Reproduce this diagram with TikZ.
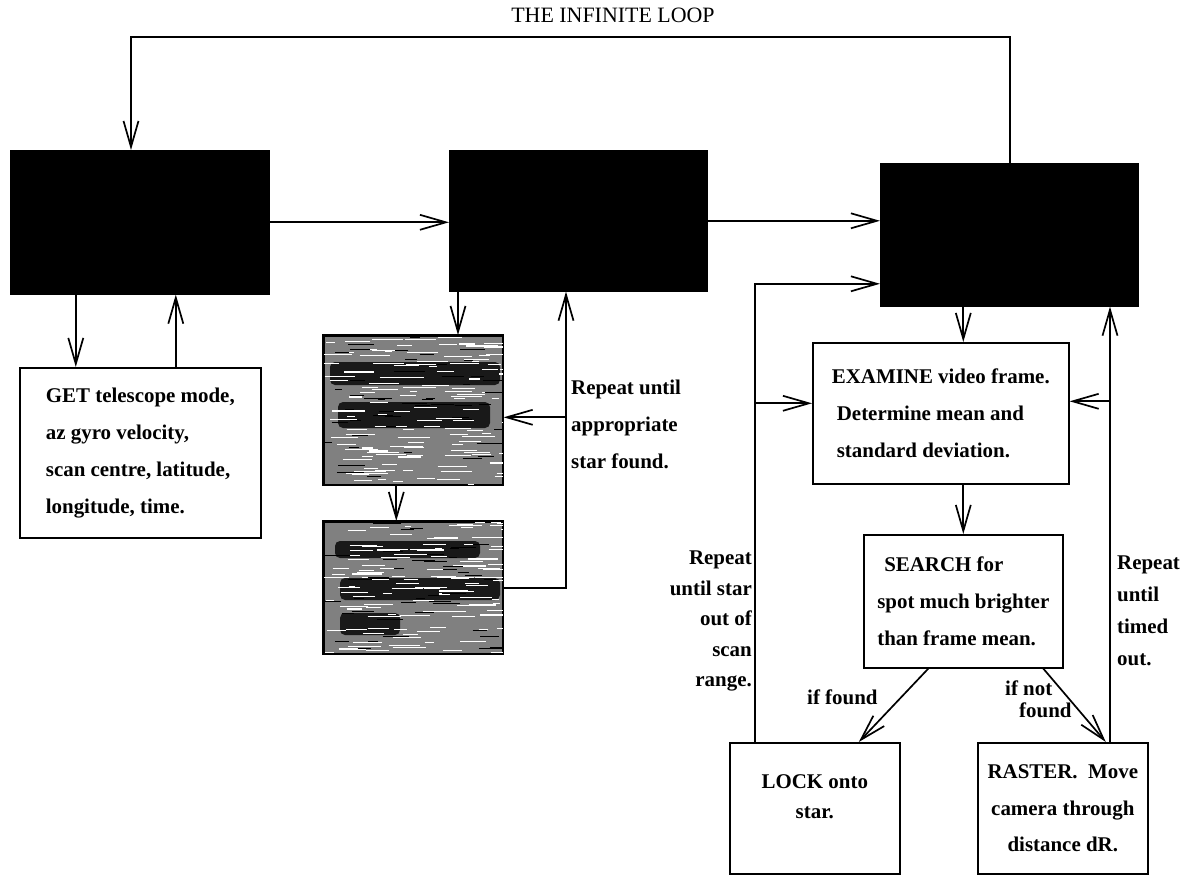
\documentclass[tikz,border=0pt]{standalone}
\usepackage{fontspec}
\setmainfont{Liberation Serif}
\usetikzlibrary{arrows.meta, positioning}

\begin{document}
\begin{tikzpicture}[x=1bp, y=-1bp,
    arr/.style={-{Straight Barb[length=26bp, width=15bp]}, line width=1.7bp},
    box/.style={draw, line width=1.6bp, inner sep=0pt, anchor=north west,
                font=\fontsize{21}{37}\selectfont\bfseries},
    blackbox/.style={box, fill=black},
    greybox/.style={box, fill=black!50},
    lbl/.style={inner sep=0pt, font=\fontsize{21}{37}\selectfont\bfseries}]
    \useasboundingbox (0,0) rectangle (1197,875);
    \node[font=\fontsize{22}{24}\selectfont] (title) at (613,15) {THE INFINITE LOOP};
    % top row
    \node[blackbox, minimum width=258bp, minimum height=143bp] (box1) at (10,150) {};
    \node[blackbox, minimum width=257bp, minimum height=140bp] (box2) at (449,150) {};
    \node[blackbox, minimum width=257bp, minimum height=142bp] (box3) at (880,163) {};
    % obscured boxes
    \node[greybox, minimum width=179bp, minimum height=149bp] (greyA) at (323,335) {};
    \node[greybox, minimum width=179bp, minimum height=132bp] (greyB) at (323,521) {};
    \fill[black!90, rounded corners=5bp] ([shift={(7,27)}]greyA.north west) rectangle ([shift={(177,50)}]greyA.north west);
    \fill[black!90, rounded corners=5bp] ([shift={(15,67)}]greyA.north west) rectangle ([shift={(167,93)}]greyA.north west);
    \fill[black!90, rounded corners=5bp] ([shift={(12,20)}]greyB.north west) rectangle ([shift={(157,37)}]greyB.north west);
    \fill[black!90, rounded corners=5bp] ([shift={(17,57)}]greyB.north west) rectangle ([shift={(177,79)}]greyB.north west);
    \fill[black!90, rounded corners=5bp] ([shift={(17,92)}]greyB.north west) rectangle ([shift={(77,114)}]greyB.north west);
    \pgfmathsetseed{7}
    \foreach \g in {greyA, greyB} {
        \begin{scope}
            \clip (\g.north west) rectangle (\g.south east);
            \foreach \i in {1,...,130} {
                \pgfmathsetmacro{\sx}{rnd*179}
                \pgfmathsetmacro{\sy}{rnd*150}
                \pgfmathsetmacro{\sl}{6+rnd*28}
                \draw[white, line width=1.1bp] ([shift={(\sx,\sy)}]\g.north west) -- ++(\sl,0);
            }
            \foreach \i in {1,...,50} {
                \pgfmathsetmacro{\sx}{rnd*179}
                \pgfmathsetmacro{\sy}{rnd*150}
                \pgfmathsetmacro{\sl}{6+rnd*22}
                \draw[black, line width=1bp] ([shift={(\sx,\sy)}]\g.north west) -- ++(\sl,0);
            }
        \end{scope}
        \draw[line width=1.6bp] (\g.north west) rectangle (\g.south east);
    }
    % text boxes
    \node[box, minimum width=241bp, minimum height=170bp, align=left] (get) at (19,367)
        {GET telescope mode,\\az gyro velocity,\\scan centre, latitude,\\longitude, time.};
    \node[box, minimum width=256bp, minimum height=141bp, align=left] (examine) at (812,342)
        {EXAMINE video frame.\\\hspace*{5bp}Determine mean and\\\hspace*{5bp}standard deviation.};
    \node[box, minimum width=199bp, minimum height=133bp, align=left] (search) at (863,534)
        {\hspace*{7bp}SEARCH for\\spot much brighter\\than frame mean.};
    \node[box, minimum width=170bp, minimum height=131bp, align=center,
          font=\fontsize{21}{30}\selectfont\bfseries] (lock) at (729,742) {LOCK onto\\star.\\[-6bp]\mbox{}};
    \node[box, minimum width=170bp, minimum height=131bp, align=center] (raster) at (977,742)
        {RASTER.\ \ Move\\camera through\\distance dR.};
    % labels
    \node[lbl, anchor=north west, align=left] (rptA) at (571,380) {Repeat until\\appropriate\\star found.};
    \node[lbl, anchor=north east, align=right, font=\fontsize{21}{30.5}\selectfont\bfseries]
        (rptB) at (752,551) {Repeat\\until star\\out of\\scan\\range.};
    \node[lbl, anchor=north west, align=left, font=\fontsize{21}{32}\selectfont\bfseries]
        (rptC) at (1117,556) {Repeat\\until\\timed\\out.};
    \node[lbl, anchor=base west] (found) at (807,704) {if found};
    \node[lbl, anchor=north west, align=left, font=\fontsize{21}{22}\selectfont\bfseries]
        (notfound) at (1005,681) {if not\\\hspace*{14bp}found};
    % helper coordinates
    \coordinate (loopL) at (131,37);
    \coordinate (loopR) at (1010,37);
    \coordinate (xa) at (458,0);
    \coordinate (xb) at (566,0);
    \coordinate (xl) at (755,0);
    \coordinate (xq) at (1110,0);
    \coordinate (inA) at ([yshift=-7bp]greyA.east);
    \coordinate (in3) at ([yshift=-49bp]box3.west);
    \coordinate (exL) at ([yshift=10bp]examine.west);
    \coordinate (exR) at ([yshift=12bp]examine.east);
    % connectors
    \draw[arr] (loopR |- box3.north) -- (loopR) -- (loopL) -- (loopL |- box1.north);
    \draw[arr] (box1.east) -- (box1.east -| box2.west);
    \draw[arr] (box2.east) -- (box2.east -| box3.west);
    \draw[arr] ([xshift=-64bp]box1.south) -- ([xshift=-64bp]box1.south |- get.north);
    \draw[arr] ([xshift=36bp]box1.south |- get.north) -- ([xshift=36bp]box1.south);
    \draw[arr] (xa |- box2.south) -- (xa |- greyA.north);
    \draw[arr] ([xshift=-17bp]greyA.south) -- ([xshift=-17bp]greyA.south |- greyB.north);
    \draw[arr] (greyB.east) -- (greyB.east -| xb) -- (xb |- box2.south);
    \draw[arr] (xb |- inA) -- (inA);
    \draw[arr] (xl |- lock.north) -- (xl |- in3) -- (in3);
    \draw[arr] (xl |- exL) -- (exL);
    \draw[arr] (xq |- raster.north) -- (xq |- box3.south);
    \draw[arr] (xq |- exR) -- (exR);
    \draw[arr] (search.north |- box3.south) -- (search.north |- examine.north);
    \draw[arr] (search.north |- examine.south) -- (search.north);
    \draw[arr] ([xshift=-35bp]search.south) -- ([xshift=44bp]lock.north);
    \draw[arr] ([xshift=80bp]search.south) -- ([xshift=43bp]raster.north);
\end{tikzpicture}
\end{document}
